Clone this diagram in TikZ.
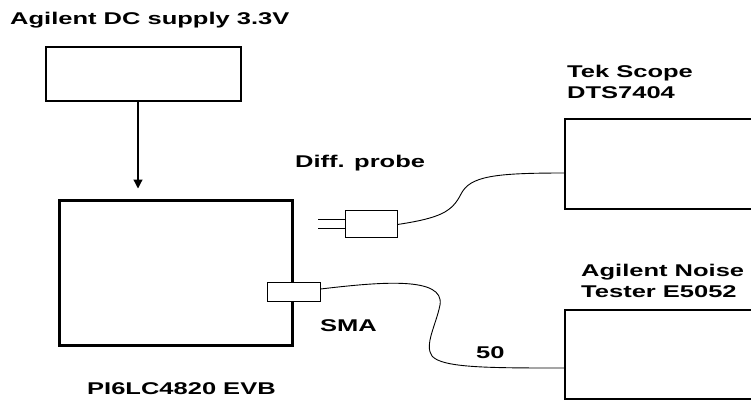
\documentclass[tikz,border=0pt]{standalone}
\usepackage{fontspec}
\newfontfamily\lblfont[FakeStretch=1.5]{Liberation Sans}
\usetikzlibrary{arrows.meta}
\tikzset{
  box/.style={draw, line width=1.2pt, inner sep=0pt, fill=white},
  lbl/.style={font=\lblfont\bfseries\fontsize{17}{21}\selectfont, inner sep=0pt, anchor=base west, align=left},
  cable/.style={line width=0.9pt}
}
\begin{document}
\begin{tikzpicture}[x=1pt,y=-1pt]
\useasboundingbox (0,0) rectangle (751,402);
\clip (0,0) rectangle (751,402);
% instruments
\node[box, minimum width=195pt, minimum height=54pt] (supply) at (143.5,74) {};
\node[draw, line width=3pt, inner sep=0pt, minimum width=233pt, minimum height=145pt] (evb) at (175.5,272.5) {};
\node[box, minimum width=200pt, minimum height=90pt] (scope) at (665,164) {};
\node[box, minimum width=200pt, minimum height=89pt] (noise) at (665,354.5) {};
% probe and connector
\node[box, line width=1pt, minimum width=52pt, minimum height=27pt] (probe) at (371,223.5) {};
\node[box, line width=1pt, minimum width=53pt, minimum height=19pt] (sma) at (293.5,291.5) {};
\coordinate (tipA) at (318,219);
\coordinate (tipB) at (318,228);
\coordinate (feed) at ([xshift=-5.5pt]supply.south);
% wiring
\draw[line width=1.2pt, -{Triangle[length=9pt,width=9pt]}] (feed) -- ([yshift=10pt]feed |- evb.north);
\draw[line width=1pt] (tipA) -- ([yshift=4.5pt]probe.west);
\draw[line width=1pt] (tipB) -- ([yshift=-4.5pt]probe.west);
\draw[cable] ([yshift=-1pt]probe.east) .. controls (440,218) and (452,212) .. (461,194)
  .. controls (470,176) and (495,173) .. ([yshift=-9pt]scope.west);
\draw[cable] ([yshift=2.5pt]sma.east) .. controls (380,282) and (445,276) .. (440,305)
  .. controls (436,325) and (424,345) .. (432,356)
  .. controls (442,368) and (490,368) .. ([yshift=-13.5pt]noise.west);
% labels
\node[lbl] (tsupply) at (10,24) {Agilent DC supply 3.3V};
\node[lbl] (tprobe) at (295,167) {Diff. probe};
\node[lbl] (tscope) at (567,98) {Tek Scope\\DTS7404};
\node[lbl] (tnoise) at (581,297) {Agilent Noise\\Tester E5052};
\node[lbl] (tsma) at (320,331) {SMA};
\node[lbl] (tohm) at (476,358) {50};
\node[lbl] (tevb) at (87,394) {PI6LC4820 EVB};
\end{tikzpicture}
\end{document}
